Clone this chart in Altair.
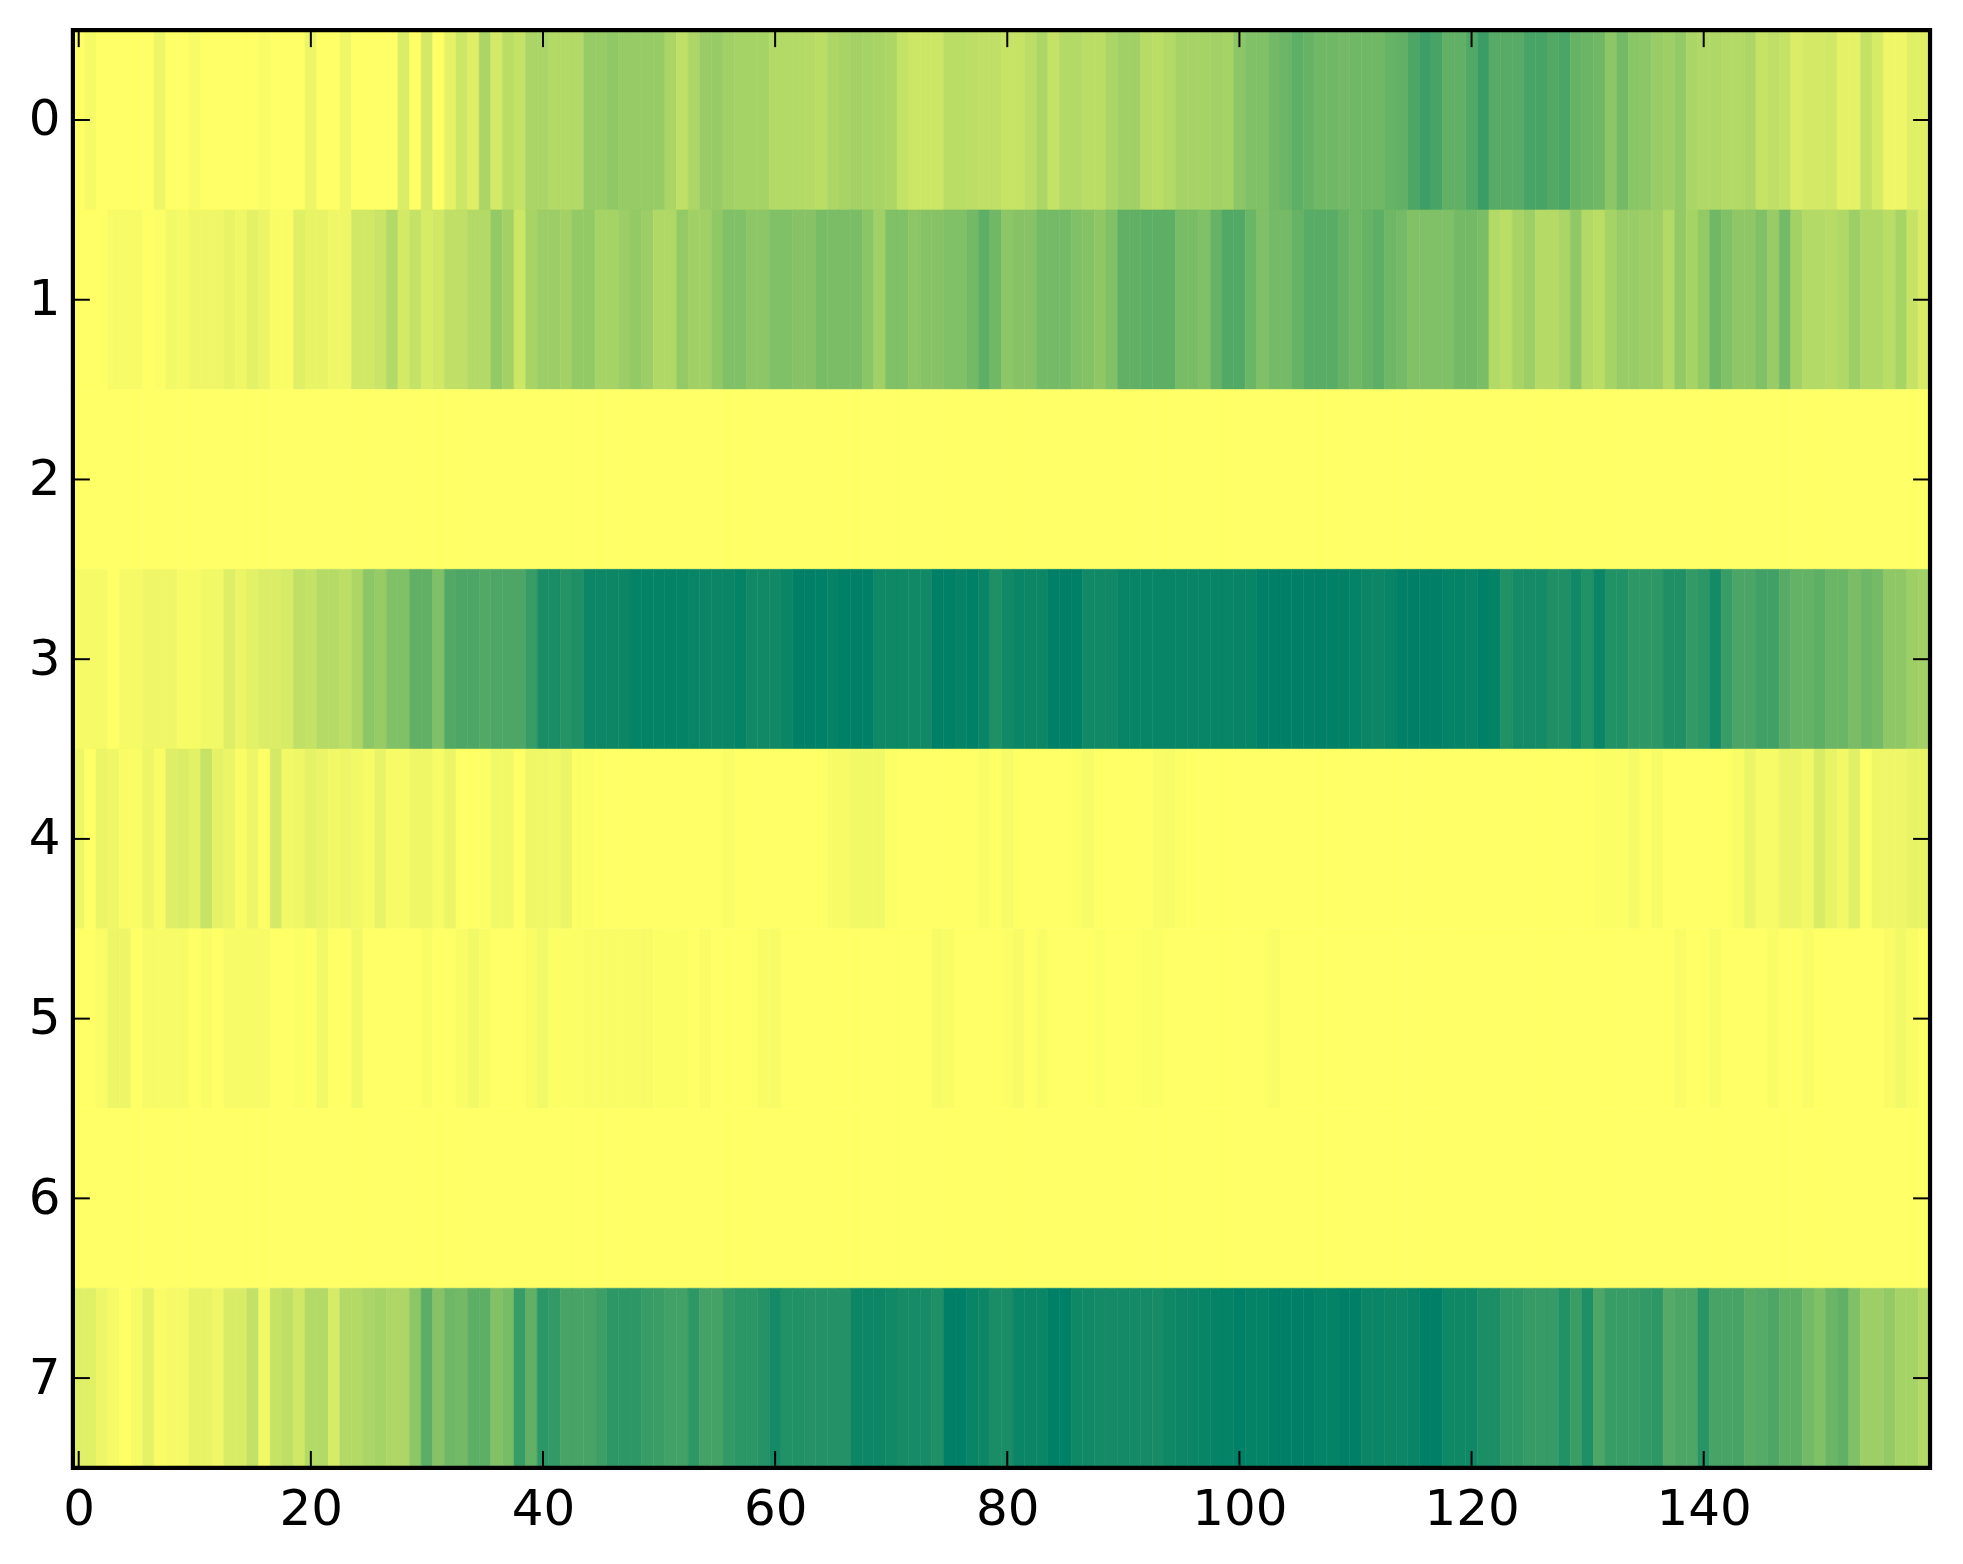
import altair as alt
import pandas as pd

row0 = [0,.04,0,0,0,0,0,.07,0,0,
        .03,0,0,0,0,0,.02,0,0,0,
        .07,0,0,.06,0,0,0,0,.14,0,
        .17,0,.1,.2,.13,.33,.17,.27,.23,.33,
        .33,.3,.3,.3,.41,.41,.43,.41,.41,.41,
        .41,.33,.25,.32,.4,.41,.37,.35,.35,.35,
        .3,.3,.3,.29,.27,.32,.34,.36,.35,.34,
        .32,.23,.2,.2,.2,.27,.27,.26,.25,.25,
        .22,.22,.26,.32,.23,.3,.3,.27,.27,.33,
        .37,.37,.28,.27,.3,.35,.35,.35,.36,.35,
        .45,.5,.5,.55,.58,.63,.6,.56,.56,.55,
        .56,.56,.56,.6,.62,.7,.76,.72,.62,.62,
        .68,.77,.66,.66,.66,.72,.72,.68,.71,.6,
        .58,.56,.45,.55,.46,.45,.4,.38,.42,.33,
        .31,.31,.3,.3,.32,.22,.25,.23,.14,.17,
        .17,.18,.1,.1,.23,.16,.06,.06,.12,.12]
row1 = [0,0,0,.03,.03,.03,0,.01,.05,.04,
        .06,.06,.06,.09,.06,.11,.08,.02,.02,.12,
        .09,.09,.06,.06,.18,.18,.21,.3,.17,.23,
        .16,.18,.25,.25,.3,.3,.42,.36,.2,.34,
        .39,.39,.36,.42,.42,.35,.35,.39,.42,.39,
        .31,.31,.42,.37,.37,.43,.5,.5,.45,.45,
        .5,.5,.47,.47,.53,.52,.52,.52,.46,.37,
        .5,.5,.45,.47,.47,.5,.5,.55,.63,.56,
        .45,.47,.47,.54,.54,.54,.5,.48,.44,.5,
        .62,.62,.63,.63,.63,.53,.53,.5,.6,.68,
        .68,.58,.5,.54,.54,.6,.65,.65,.65,.6,
        .56,.6,.63,.57,.54,.49,.5,.5,.5,.55,
        .55,.52,.3,.27,.34,.38,.29,.29,.33,.43,
        .3,.27,.35,.4,.4,.38,.38,.3,.42,.35,
        .42,.56,.5,.44,.44,.5,.4,.54,.36,.3,
        .3,.28,.31,.38,.31,.31,.27,.34,.22,.15]
row2 = [0] * 160
row3 = [.04,.04,.04,0,.04,.04,.06,.06,.06,.03,
        .03,.05,.05,.13,.08,.11,.14,.14,.16,.25,
        .23,.29,.29,.26,.32,.45,.41,.5,.5,.62,
        .62,.5,.68,.7,.7,.68,.7,.7,.7,.78,
        .9,.9,.85,.88,.95,.95,.95,.95,.98,.98,
        .98,.98,.98,.97,.96,.96,.96,.98,.93,.93,
        .93,.96,1,1,1,.98,1,1,1,.94,
        .94,.94,.93,.93,1,1,.98,1,.97,.88,
        .93,.96,.95,.95,1,1,1,.93,.93,.93,
        .97,.97,.97,.97,.97,.97,.97,.97,.97,.97,
        .97,.97,1,1,1,1,1,1,1,.99,
        .98,.96,.95,.97,1,1,1,1,.98,.98,
        .97,1,.98,.87,.92,.92,.92,.88,.88,.93,
        .87,.96,.87,.87,.82,.82,.82,.88,.88,.8,
        .83,.92,.78,.71,.71,.75,.75,.66,.61,.61,
        .63,.58,.58,.52,.57,.54,.44,.44,.38,.37]
row4 = [.07,0,.08,.06,.02,.02,.07,.02,.13,.14,
        .11,.22,.1,.08,.02,.07,.01,.17,.05,.06,
        .1,.08,.05,.07,.05,.03,.09,.03,.03,.06,
        .06,.03,.08,0,0,.01,.05,.05,0,.06,
        .06,.05,.08,.01,.01,0,0,0,0,0,
        0,0,0,0,0,0,.02,0,0,0,
        0,0,0,0,0,.03,.03,.05,.05,.05,
        .01,0,0,0,0,0,0,0,.02,0,
        .03,0,0,0,0,0,.01,.03,0,0,
        0,0,0,.02,.03,.01,0,0,0,0,
        0,0,0,0,0,0,0,0,0,0,
        0,0,0,0,0,0,0,0,0,0,
        0,0,0,0,0,0,0,0,0,0,
        0,.01,.01,.01,.04,0,.03,0,0,0,
        0,0,0,.02,.08,.03,.03,.08,.08,.05,
        .15,.09,.05,.12,.01,.06,.06,.06,.09,.09]
row5 = [0,0,.02,.07,.07,0,.03,.03,.03,.03,
        0,.02,0,.03,.03,.03,.03,0,0,.01,
        0,.05,0,0,.05,0,0,0,0,0,
        .02,0,0,.02,.05,.02,0,0,0,.02,
        .05,.01,.01,.01,.02,.02,.02,.02,.02,.03,
        .01,.01,.01,0,.02,0,0,0,0,.02,
        .03,0,0,0,0,0,0,0,0,0,
        0,0,0,0,.03,.02,0,0,0,0,
        .01,.03,0,.02,0,0,0,0,.01,0,
        0,0,.01,.01,0,0,0,0,0,0,
        0,0,0,.02,0,0,0,0,0,0,
        0,0,0,0,0,0,0,0,0,0,
        0,0,0,0,0,0,0,0,0,0,
        0,0,0,0,0,0,0,0,.02,0,
        0,.02,0,0,0,0,.02,0,0,.02,
        0,0,0,0,0,0,.02,.05,.02,0]
row6 = [0] * 160
row7 = [.12,.12,.07,.04,0,.03,.1,.02,.04,.04,
        .09,.09,.06,.15,.15,.24,.05,.22,.25,.18,
        .3,.3,.16,.3,.3,.33,.35,.32,.32,.45,
        .64,.47,.57,.55,.63,.63,.49,.53,.78,.62,
        .83,.8,.72,.72,.72,.76,.82,.82,.82,.78,
        .77,.74,.74,.82,.73,.73,.8,.83,.83,.85,
        .92,.87,.87,.86,.86,.86,.86,.95,.95,.95,
        .93,.91,.91,.91,.88,1,1,.97,.95,.9,
        .9,.96,.96,.96,1,1,.94,.93,.92,.92,
        .92,.92,.92,.91,.94,.95,.96,.97,.98,.98,
        1,.98,.98,1,1,1,1,.98,.98,1,
        1,.96,.96,.95,.95,.97,1,1,.94,.94,
        .94,.89,.89,.82,.82,.79,.79,.79,.87,.77,
        .88,.7,.78,.78,.78,.8,.82,.67,.7,.7,
        .84,.72,.72,.72,.65,.67,.7,.63,.63,.55,
        .5,.58,.62,.5,.38,.38,.42,.35,.35,.3]
rows = [row0, row1, row2, row3, row4, row5, row6, row7]

x_ticks = [0, 20, 40, 60, 80, 100, 120, 140]
y_ticks = [0, 1, 2, 3, 4, 5, 6, 7]

W, H = 1860, 1440
TICK = 17

records = []
for r, vals in enumerate(rows):
    assert len(vals) == 160, (r, len(vals))
    for c, v in enumerate(vals):
        records.append({"x0": c - 0.5, "x1": c + 0.5, "y0": r - 0.5, "y1": r + 0.5, "v": v})
cells = pd.DataFrame(records)
xt = pd.DataFrame({"t": x_ticks})
yt = pd.DataFrame({"t": y_ticks})

xs = alt.Scale(domain=[-0.5, 159.5], nice=False, zero=False)
ys = alt.Scale(domain=[7.5, -0.5], nice=False, zero=False)
cs = alt.Scale(domain=[0, 1], range=["#ffff66", "#008066"], interpolate="rgb")

LABEL = dict(labelFont="DejaVu Sans", labelFontSize=50, labelColor="black", domain=False,
             ticks=False, grid=False, tickSize=0, title=None, labelFlush=False, labelOverlap=False)
xaxis = alt.Axis(values=x_ticks, format="d", labelPadding=17, **LABEL)
yaxis = alt.Axis(values=y_ticks, format="d", labelPadding=13, **LABEL)

heat = alt.Chart(cells).mark_rect(strokeWidth=0.5).encode(
    x=alt.X("x0:Q", scale=xs, axis=xaxis),
    x2="x1:Q",
    y=alt.Y("y0:Q", scale=ys, axis=yaxis),
    y2="y1:Q",
    color=alt.Color("v:Q", scale=cs, legend=None),
    stroke=alt.Color("v:Q", scale=cs, legend=None),
)

tx = alt.X("t:Q", scale=xs, axis=xaxis)
ty = alt.Y("t:Q", scale=ys, axis=yaxis)
rule = dict(color="black", strokeWidth=2)
top = alt.Chart(xt).mark_rule(**rule).encode(x=tx, y=alt.value(0), y2=alt.value(TICK))
bottom = alt.Chart(xt).mark_rule(**rule).encode(x=tx, y=alt.value(H - TICK), y2=alt.value(H))
left = alt.Chart(yt).mark_rule(**rule).encode(y=ty, x=alt.value(0), x2=alt.value(TICK))
right = alt.Chart(yt).mark_rule(**rule).encode(y=ty, x=alt.value(W - TICK), x2=alt.value(W))

frame = alt.Chart(pd.DataFrame({"a": [0]})).mark_rect(fill=None, stroke="black", strokeWidth=4.2).encode(
    x=alt.value(0), x2=alt.value(W), y=alt.value(0), y2=alt.value(H)
)

chart = alt.layer(heat, top, bottom, left, right, frame).properties(
    width=W, height=H,
    autosize=alt.AutoSizeParams(type="none"),
    padding={"left": 65, "top": 21, "right": 25, "bottom": 85},
    background="white",
).configure_view(stroke=None)

chart.save("out.html", embed_options={"renderer": "svg", "actions": False})
